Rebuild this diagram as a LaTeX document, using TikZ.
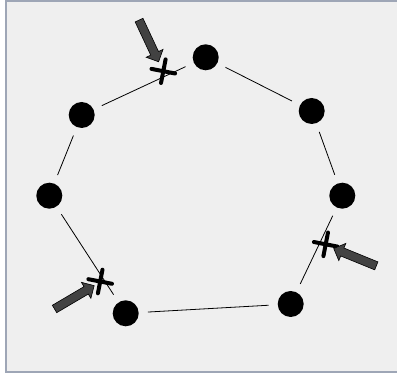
\documentclass[tikz,border=0pt]{standalone}
\usetikzlibrary{shapes.misc,shapes.arrows}
\definecolor{panelgray}{HTML}{EFEFEF}
\definecolor{panelframe}{HTML}{9EA6B6}
\definecolor{arrowgray}{HTML}{424242}
\tikzset{
  dot/.style={circle,fill=black,inner sep=0pt,minimum size=26pt},
  link/.style={line width=0.8pt,shorten >=9pt,shorten <=9pt},
  crossmark/.style={cross out,draw=black,line width=4pt,line cap=round,
    inner sep=0pt,minimum size=13pt,rotate=34},
  pointer/.style={single arrow,draw=black,fill=arrowgray,line width=0.6pt,
    inner sep=4pt,minimum width=18pt,minimum height=46pt,
    single arrow head extend=5pt,single arrow head indent=0pt}
}
\begin{document}
\begin{tikzpicture}[x=1pt,y=1pt]
\useasboundingbox (0,0) rectangle (397,379);
\fill[panelgray] (6,7) rectangle (400,378);
\draw[panelframe,line width=1.4pt] (400,378) -- (6,378) -- (6,7) -- (400,7);
%
\node[dot] (a) at (205.7,321.7) {};
\node[dot] (b) at (311.7,268) {};
\node[dot] (c) at (342.3,183.3) {};
\node[dot] (d) at (290.7,75) {};
\node[dot] (e) at (125.7,65.7) {};
\node[dot] (f) at (49.3,183.3) {};
\node[dot] (g) at (81.7,264) {};
\foreach \u/\v in {g/a,a/b,b/c,c/d,d/e,e/f,f/g}{
\draw[link] (\u) -- (\v);
}
%
\node[crossmark] (x1) at (163.3,307.8) {};
\node[crossmark] (x2) at (100.2,97.5) {};
\node[crossmark] (x3) at (325.7,134.7) {};
%
\node[pointer,rotate=-64.9] (p1) at (147.9,340) {};
\node[pointer,rotate=30.5] (p2) at (72.5,80.6) {};
\node[pointer,rotate=157.8] (p3) at (357,121) {};
\end{tikzpicture}
\end{document}
